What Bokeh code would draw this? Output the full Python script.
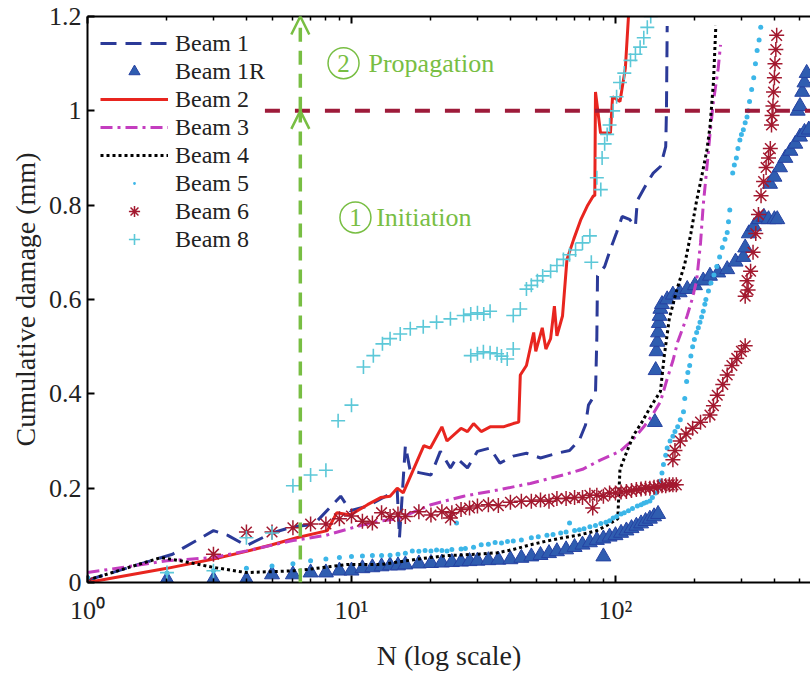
from bokeh.plotting import figure
from bokeh.models import (Range1d, LogAxis, FixedTicker, CustomJSTickFormatter,
                          Legend, LegendItem, Arrow, OpenHead, Label)
from bokeh.embed import file_html
from bokeh.resources import INLINE
from bokeh.core.properties import value

# ---------------- data ----------------
b1_N = [1, 2.1, 3, 3.4, 4, 5, 6, 7.2, 9.1, 9.9, 11.5, 13, 14.9, 15.2, 16, 16.7, 18, 20, 21.7, 23.7,
        25, 27.5, 30, 33.5, 36.5, 41, 46, 52, 60, 67, 73, 77, 79, 84, 85, 85.5, 91, 95.6, 101, 106,
        113, 119, 121, 132, 139, 148, 155, 156, 157]
b1_y = [0.005, 0.06, 0.11, 0.1, 0.078, 0.105, 0.118, 0.123, 0.183, 0.152, 0.162, 0.178, 0.196, 0.095,
        0.29, 0.236, 0.233, 0.228, 0.278, 0.243, 0.264, 0.243, 0.278, 0.285, 0.253, 0.268, 0.274,
        0.264, 0.274, 0.28, 0.302, 0.334, 0.376, 0.4, 0.52, 0.65, 0.67, 0.706, 0.742, 0.776, 0.77,
        0.755, 0.81, 0.848, 0.868, 0.882, 0.924, 1.0, 1.18]

b1r_N = [1, 2, 3, 4, 5, 6, 7, 8, 9, 10, 11, 12, 13, 14, 15, 16, 18, 20, 22, 24, 26, 28, 30, 33, 36, 40,
         44, 48, 52, 56, 60, 65, 70, 75, 80, 85, 90, 90, 95, 100, 105, 110, 115, 120, 125, 130, 135,
         140, 145, 141, 142, 143, 144, 145, 146, 147, 148, 150, 157, 165, 175, 187, 200, 215, 228,
         245, 265, 285, 305, 310, 320, 335, 350, 365, 380, 400, 410, 385, 400, 420, 440, 460, 480,
         500, 520, 540, 490, 500, 510, 520, 530]
b1r_y = [0, 0.006, 0.006, 0.006, 0.017, 0.017, 0.021, 0.021, 0.025, 0.025, 0.03, 0.032, 0.034, 0.036,
         0.036, 0.038, 0.04, 0.041, 0.042, 0.043, 0.044, 0.045, 0.046, 0.047, 0.048, 0.049, 0.052,
         0.055, 0.058, 0.062, 0.066, 0.07, 0.075, 0.08, 0.085, 0.09, 0.093, 0.055, 0.097, 0.1, 0.105,
         0.11, 0.115, 0.12, 0.125, 0.13, 0.135, 0.14, 0.145, 0.34, 0.45, 0.49, 0.51, 0.53, 0.55,
         0.565, 0.58, 0.59, 0.6, 0.61, 0.615, 0.622, 0.63, 0.64, 0.65, 0.657, 0.664, 0.68, 0.69,
         0.71, 0.74, 0.755, 0.77, 0.775, 0.77, 0.77, 0.77, 0.845, 0.86, 0.88, 0.9, 0.915, 0.93,
         0.945, 0.955, 0.96, 1.0, 1.01, 1.04, 1.06, 1.08]

b2_N = [1, 2, 3, 4, 5, 6.2, 8.1, 8.8, 9.9, 11.5, 12.9, 14, 14.9, 15.7, 18.8, 19.9, 22, 23, 26, 27.5,
        29, 31, 33.5, 37.6, 41, 43, 43.6, 46, 49, 49.9, 52.8, 54.5, 56.8, 58.7, 60, 63, 65.5, 69.5,
        74, 78.5, 82.5, 83.5, 84, 87.8, 95.7, 97.5, 104, 109, 112]
b2_y = [0, 0.03, 0.05, 0.066, 0.08, 0.095, 0.11, 0.148, 0.143, 0.165, 0.18, 0.183, 0.2, 0.19, 0.29,
        0.285, 0.33, 0.3, 0.327, 0.32, 0.337, 0.32, 0.33, 0.33, 0.337, 0.34, 0.44, 0.46, 0.53, 0.49,
        0.54, 0.495, 0.517, 0.586, 0.523, 0.565, 0.685, 0.728, 0.77, 0.8, 0.82, 0.82, 1.04, 0.953,
        0.953, 1.03, 1.02, 1.09, 1.2]

b3_N = [1, 2, 3, 4, 6, 8, 11, 12.8, 15, 20, 26.6, 35.7, 47.6, 63.5, 75, 88, 104, 115, 128, 138,
        148, 157, 165, 172, 180, 187, 195, 203, 210, 215, 222, 228, 235, 245, 250]
b3_y = [0.021, 0.046, 0.053, 0.067, 0.089, 0.1, 0.122, 0.13, 0.135, 0.165, 0.183, 0.196, 0.21,
        0.228, 0.24, 0.26, 0.278, 0.3, 0.33, 0.355, 0.383, 0.432, 0.47, 0.51, 0.54, 0.566, 0.6,
        0.64, 0.72, 0.8, 0.88, 0.95, 1.02, 1.09, 1.14]

b4_N = [1, 1.9, 2.25, 3, 4, 6.2, 9.6, 12.9, 18, 23, 30, 35.7, 41, 47.6, 55, 63.5, 72, 85, 92, 98.5,
        102, 104, 110, 117, 126, 135, 148, 153, 160, 171, 183, 193, 203, 212, 222, 228, 235, 240]
b4_y = [0.005, 0.053, 0.046, 0.032, 0.021, 0.025, 0.038, 0.038, 0.05, 0.057, 0.06, 0.063, 0.07,
        0.08, 0.088, 0.095, 0.1, 0.11, 0.12, 0.13, 0.135, 0.24, 0.275, 0.312, 0.34, 0.37, 0.405,
        0.48, 0.56, 0.622, 0.675, 0.74, 0.81, 0.86, 0.917, 0.966, 1.06, 1.18]

b5_N = [1, 2, 3, 4, 5, 6, 7, 8, 9, 10, 11, 12, 13, 14, 15, 16, 17, 18, 19, 20, 21, 22, 23, 24, 25,
        26, 27, 29, 31, 33, 35, 37, 39, 41, 44, 48, 51, 55, 58, 62, 65, 67, 70, 73, 76, 80, 84, 88,
        92, 95, 98, 101, 105, 108, 112, 116, 121, 125, 128, 131, 135, 138, 142, 145, 148, 150, 152,
        155, 157, 161, 165, 168, 172, 176, 181, 183, 186, 188, 191, 193, 196, 199, 203, 206, 209,
        212, 215, 218, 220, 225, 230, 236, 242, 248, 254, 260, 265, 268, 271, 278, 282, 287, 291,
        296, 300, 305, 310, 315, 318, 322, 328, 334, 339, 344, 350, 355]
b5_y = [0.01, 0.02, 0.025, 0.03, 0.035, 0.04, 0.046, 0.05, 0.053, 0.055, 0.056, 0.057, 0.057, 0.058,
        0.06, 0.062, 0.067, 0.066, 0.068, 0.067, 0.069, 0.068, 0.067, 0.07, 0.126, 0.071, 0.072,
        0.075, 0.08, 0.081, 0.085, 0.084, 0.087, 0.088, 0.09, 0.095, 0.097, 0.1, 0.102, 0.105, 0.107,
        0.126, 0.11, 0.112, 0.114, 0.118, 0.121, 0.125, 0.128, 0.131, 0.137, 0.14, 0.145, 0.148,
        0.152, 0.157, 0.162, 0.165, 0.168, 0.17, 0.173, 0.18, 0.19, 0.2, 0.215, 0.232, 0.25, 0.27,
        0.285, 0.3, 0.31, 0.32, 0.33, 0.345, 0.362, 0.39, 0.426, 0.445, 0.46, 0.48, 0.5, 0.515, 0.53,
        0.54, 0.552, 0.563, 0.575, 0.59, 0.6, 0.618, 0.635, 0.652, 0.67, 0.69, 0.71, 0.728, 0.742,
        0.765, 0.79, 0.868, 0.885, 0.9, 0.92, 0.938, 0.95, 0.96, 0.975, 0.987, 1.0, 1.02, 1.045,
        1.07, 1.1, 1.128, 1.15, 1.177]

b6_N = [1, 3, 4, 5, 6, 7, 8, 9, 10, 11, 12, 13, 14, 15, 16, 18, 20, 22, 23.7, 24, 26, 28, 30, 33, 36,
        40, 44, 48, 52, 56, 60, 65, 70, 75, 80, 82, 85, 90, 95, 100, 105, 110, 115, 120, 125, 130,
        135, 140, 145, 150, 155, 160, 165, 170, 165, 168, 176, 185, 196, 210, 228, 235, 243, 255,
        265, 276, 288, 300, 310, 310, 315, 318, 325, 332, 340, 348, 356, 364, 372, 380, 386, 390,
        392, 395, 397, 400, 402, 405, 408]
b6_y = [0, 0.06, 0.107, 0.107, 0.116, 0.124, 0.124, 0.135, 0.141, 0.13, 0.126, 0.148, 0.14, 0.145,
        0.14, 0.15, 0.143, 0.15, 0.137, 0.148, 0.155, 0.158, 0.162, 0.165, 0.163, 0.17, 0.172,
        0.172, 0.175, 0.172, 0.178, 0.178, 0.18, 0.18, 0.185, 0.158, 0.185, 0.183, 0.19, 0.19,
        0.192, 0.193, 0.195, 0.197, 0.198, 0.2, 0.2, 0.202, 0.203, 0.205, 0.205, 0.207, 0.207,
        0.207, 0.26, 0.28, 0.3, 0.315, 0.327, 0.34, 0.355, 0.375, 0.397, 0.42, 0.44, 0.46, 0.475,
        0.49, 0.502, 0.607, 0.64, 0.62, 0.66, 0.7, 0.74, 0.78, 0.82, 0.85, 0.88, 0.9, 0.92, 0.97,
        0.99, 1.01, 1.04, 1.07, 1.1, 1.13, 1.16]

b8_N = [1, 2, 3, 4, 5, 6, 7, 8, 8.9, 10, 11.1, 12.1, 13.1, 14, 15.3, 16.7, 18.7, 21, 23.7, 26.6,
        28.3, 30, 31.7, 33.5, 28.3, 30, 31.6, 33.5, 35.6, 37, 38.9, 41, 41, 43.6, 46, 48, 50.6, 53,
        56.8, 60, 63.5, 67, 70.6, 75, 80, 81, 85, 88, 89, 91, 93, 95, 98, 101, 104, 108, 114, 119,
        124, 128, 132, 136]
b8_y = [0, 0.021, 0.025, 0.095, 0.105, 0.205, 0.228, 0.238, 0.343, 0.376, 0.457, 0.481, 0.506,
        0.517, 0.527, 0.538, 0.542, 0.552, 0.559, 0.566, 0.569, 0.572, 0.569, 0.575, 0.481, 0.485,
        0.489, 0.487, 0.485, 0.48, 0.474, 0.495, 0.566, 0.58, 0.622, 0.63, 0.64, 0.65, 0.66, 0.672,
        0.685, 0.695, 0.705, 0.72, 0.735, 0.679, 0.858, 0.833, 0.9, 0.93, 0.95, 0.97, 1.0, 1.03,
        1.06, 1.08, 1.107, 1.12, 1.135, 1.155, 1.177, 1.2]

series_labels = ["Beam 1", "Beam 1R", "Beam 2", "Beam 3", "Beam 4", "Beam 5", "Beam 6", "Beam 8"]
x_major_ticks = [1, 10, 100]
x_minor_ticks = [2, 3, 4, 5, 6, 7, 8, 9, 20, 30, 40, 50, 60, 70, 80, 90, 200, 300, 400, 500]
y_ticks = [0, 0.2, 0.4, 0.6, 0.8, 1.0, 1.2]

# annotation anchors (data units)
THRESH_Y = 1.0
THRESH_X0 = 4.7
THRESH_X1 = 2000
GREEN_X = 6.4
CIRCLE2 = (9.33, 1.101)
CIRCLE1 = (10.35, 0.774)
PROP_X = 11.6
INIT_X = 12.4
X_MIN, X_MAX = 1, 548
Y_MIN, Y_MAX = 0, 1.2

# ---------------- figure ----------------
FONT = "Liberation Serif"
GREEN = "#78BE43"

p = figure(width=810, height=673, x_axis_type="log",
           x_range=Range1d(X_MIN, X_MAX), y_range=Range1d(Y_MIN, Y_MAX),
           output_backend="svg", toolbar_location=None,
           min_border_left=87, min_border_right=0, min_border_top=16, min_border_bottom=88)
p.grid.visible = False
p.outline_line_color = None
p.background_fill_color = "white"
p.border_fill_color = "white"

xt = FixedTicker(ticks=x_major_ticks, minor_ticks=x_minor_ticks)
xfmt = CustomJSTickFormatter(code="""
const sup = {'0':'\u2070','1':'\u00b9','2':'\u00b2','3':'\u00b3','-':'\u207b'};
const e = Math.round(Math.log10(tick));
return '10' + String(e).split('').map(c => sup[c]).join('');
""")

xa = p.xaxis[0]
xa.ticker = xt
xa.formatter = xfmt
xa.axis_label = "N (log scale)"
ya = p.yaxis[0]
ya.ticker = FixedTicker(ticks=y_ticks)
ya.formatter = CustomJSTickFormatter(code="return (Math.round(tick*10)/10).toString();")
ya.axis_label = "Cumulative damage (mm)"

for ax in (xa, ya):
    ax.axis_line_width = 2
    ax.axis_line_color = "black"
    ax.major_tick_in = 7
    ax.major_tick_out = 0
    ax.major_tick_line_width = 2
    ax.minor_tick_in = 4
    ax.minor_tick_out = 0
    ax.minor_tick_line_width = 1.5
    ax.major_label_text_font = FONT
    ax.major_label_text_font_size = "26px"
    ax.major_label_text_color = "#222222"
    ax.axis_label_text_font = FONT
    ax.axis_label_text_font_size = "28px"
    ax.axis_label_text_font_style = "normal"
    ax.axis_label_text_color = "#222222"
ya.minor_tick_line_color = None
ya.major_label_standoff = 6
ya.axis_label_standoff = 5
xa.major_label_standoff = 13
xa.axis_label_standoff = 12

top = LogAxis(ticker=xt, major_label_text_font_size="0px", major_label_text_color=None,
              major_tick_in=7, major_tick_out=0, minor_tick_in=4, minor_tick_out=0,
              axis_line_width=2, major_tick_line_width=2, minor_tick_line_width=1.5,
              major_label_standoff=0)
p.add_layout(top, "above")

# ---------------- series ----------------
r1 = p.line(b1_N, b1_y, line_color="#2B3A98", line_width=3, line_dash="16 9")
r1r = p.scatter(b1r_N, b1r_y, marker="triangle", size=15, fill_color="#2F5DB0",
                line_color="#2642A2", line_width=1)
r2 = p.line(b2_N, b2_y, line_color="#E8251F", line_width=3)
r3 = p.line(b3_N, b3_y, line_color="#C43DBF", line_width=3, line_dash="12 5 3 5")
r4 = p.line(b4_N, b4_y, line_color="black", line_width=3, line_dash="3 3")
r5 = p.scatter(b5_N, b5_y, marker="dot", size=20, fill_color="#3CB6E8", line_color="#3CB6E8",
               line_width=1)
r6 = p.scatter(b6_N, b6_y, marker="asterisk", size=15, line_color="#A3192F", line_width=1.5)
r8 = p.scatter(b8_N, b8_y, marker="cross", size=14, line_color="#5CC8D8", line_width=1.6)

# threshold line
p.segment(x0=[THRESH_X0], y0=[THRESH_Y], x1=[THRESH_X1], y1=[THRESH_Y],
          line_color="#9E1B3A", line_width=4, line_dash="15 15")

# green arrows
for ys, ye in ((Y_MIN, THRESH_Y), (THRESH_Y, Y_MAX)):
    p.add_layout(Arrow(end=OpenHead(size=18, line_color=GREEN, line_width=2.5),
                       x_start=GREEN_X, y_start=ys, x_end=GREEN_X, y_end=ye,
                       line_color=GREEN, line_width=3.5, line_dash="14 9"))

# phase annotations
p.scatter([CIRCLE2[0], CIRCLE1[0]], [CIRCLE2[1], CIRCLE1[1]], marker="circle", size=31,
          fill_color=None, line_color=GREEN, line_width=1.5)
p.text([CIRCLE2[0], CIRCLE1[0]], [CIRCLE2[1], CIRCLE1[1]], text=["2", "1"],
       text_align="center", text_baseline="middle", text_font=value(FONT),
       text_font_size="25px", text_color=GREEN)
p.add_layout(Label(x=PROP_X, y=CIRCLE2[1], text="Propagation", text_font=FONT,
                   text_font_size="26px", text_color=GREEN, text_baseline="middle"))
p.add_layout(Label(x=INIT_X, y=CIRCLE1[1], text="Initiation", text_font=FONT,
                   text_font_size="26px", text_color=GREEN, text_baseline="middle"))

# legend
renderers = [r1, r1r, r2, r3, r4, r5, r6, r8]
legend = Legend(items=[LegendItem(label=l, renderers=[r]) for l, r in zip(series_labels, renderers)],
                location="top_left", border_line_color=None, background_fill_alpha=0,
                glyph_width=68, glyph_height=28, label_height=28, spacing=0,
                padding=8, margin=13, label_standoff=7,
                label_text_font=FONT, label_text_font_size="24px", label_text_color="#222222")
p.add_layout(legend)

open("out.html", "w").write(file_html(p, INLINE))
